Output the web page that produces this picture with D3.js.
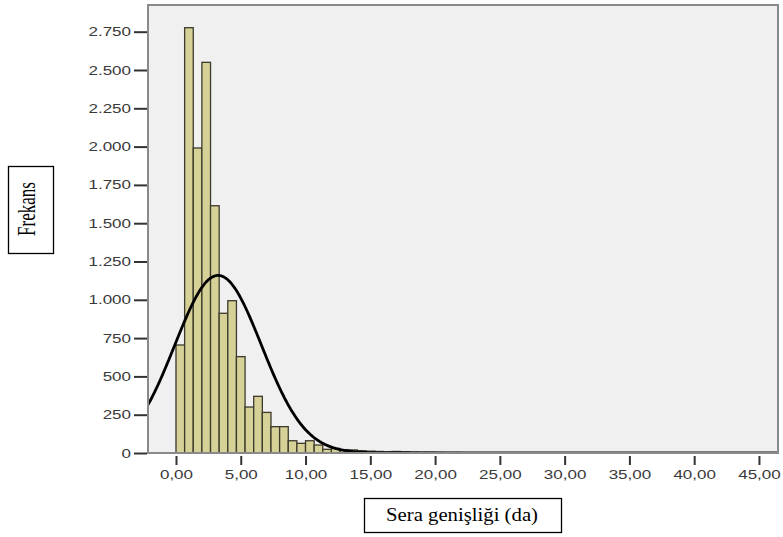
<!DOCTYPE html>
<html>
<head>
<meta charset="utf-8">
<script src="https://cdn.jsdelivr.net/npm/d3@7"></script>
<style>
  html, body { margin: 0; padding: 0; background: #ffffff; }
  svg { display: block; }
</style>
</head>
<body>
<svg id="chart" width="783" height="537"></svg>
<script>
// ---- data ----
const binWidth = 2 / 3;           // width of each histogram bin (da)
const binCounts = [705, 2776, 1991, 2550, 1614, 912, 994, 629, 300, 370,
                   265, 172, 172, 80, 63, 80, 52, 24, 30, 22,
                   20, 15, 12, 10, 8, 10, 8, 6, 5, 5,
                   4, 3, 3, 2, 2, 2, 1, 1, 1, 1,
                   1, 0, 1, 0, 1, 0, 0, 1, 0, 0,
                   0, 1, 0, 0, 0, 0, 1, 0, 0, 0,
                   0, 0, 0, 0, 1, 0, 0, 1];
const normalMean = 3.25;
const normalSD = 3.35;
const totalN = 14600;
const yTicks = [0, 250, 500, 750, 1000, 1250, 1500, 1750, 2000, 2250, 2500, 2750];
const xTicks = [0, 5, 10, 15, 20, 25, 30, 35, 40, 45];
const xTitle = "Sera genişliği (da)";
const yTitle = "Frekans";

// ---- layout ----
const svg = d3.select("#chart");
const plot = { left: 148, right: 778, top: 5, bottom: 453 };

const x = d3.scaleLinear().domain([-2.16, 46.47]).range([plot.left, plot.right]);
const y = d3.scaleLinear().domain([0, 2750]).range([plot.bottom, 31.7]);

const loc = d3.formatLocale({ decimal: ",", thousands: ".", grouping: [3], currency: ["", ""] });
const fmtY = loc.format(",d");
const fmtX = loc.format(",.2f");

// plot background
svg.append("rect")
  .attr("x", plot.left).attr("y", plot.top)
  .attr("width", plot.right - plot.left).attr("height", plot.bottom - plot.top)
  .attr("fill", "#f0f0f0");

svg.append("defs").append("clipPath").attr("id", "clip")
  .append("rect")
  .attr("x", plot.left).attr("y", plot.top)
  .attr("width", plot.right - plot.left).attr("height", plot.bottom - plot.top);

// bars
const bins = binCounts.map((c, i) => ({ x0: i * binWidth, x1: (i + 1) * binWidth, count: c }))
  .filter(d => d.count > 0);
svg.append("g").attr("clip-path", "url(#clip)")
  .selectAll("rect").data(bins).enter().append("rect")
  .attr("x", d => x(d.x0))
  .attr("y", d => y(d.count))
  .attr("width", d => x(d.x1) - x(d.x0))
  .attr("height", d => y(0) - y(d.count))
  .attr("fill", "#d6d197")
  .attr("stroke", "#3b3a2c")
  .attr("stroke-width", 1.3);

// normal curve
const curvePts = d3.range(-2.2, 46.6, 0.05).map(v => {
  const z = (v - normalMean) / normalSD;
  return [v, totalN * binWidth / (normalSD * Math.sqrt(2 * Math.PI)) * Math.exp(-0.5 * z * z)];
});
svg.append("path").attr("clip-path", "url(#clip)")
  .datum(curvePts)
  .attr("fill", "none")
  .attr("stroke", "#000")
  .attr("stroke-width", 2.8)
  .attr("d", d3.line().x(d => x(d[0])).y(d => y(d[1])).curve(d3.curveBasis));

// frame
svg.append("rect")
  .attr("x", plot.left).attr("y", plot.top)
  .attr("width", plot.right - plot.left).attr("height", plot.bottom - plot.top)
  .attr("fill", "none").attr("stroke", "#8a8a8a").attr("stroke-width", 2);

// axes
const yAxis = svg.append("g").attr("transform", `translate(${plot.left - 1},0)`)
  .call(d3.axisLeft(y).tickValues(yTicks).tickFormat(fmtY).tickSize(13).tickPadding(3));
const xAxis = svg.append("g").attr("transform", `translate(0,${plot.bottom + 3})`)
  .call(d3.axisBottom(x).tickValues(xTicks).tickFormat(fmtX).tickSize(9).tickPadding(5));

[yAxis, xAxis].forEach(g => {
  g.select(".domain").remove();
  g.selectAll(".tick line").attr("stroke", "#333").attr("stroke-width", 2);
  g.selectAll(".tick text")
    .attr("fill", "#3a3a3a")
    .style("font-family", "'Liberation Sans', Arial, sans-serif")
    .style("font-size", "12.5px");
});
// stretched look of the original labels
svg.selectAll(".tick text").each(function () {
  const w = this.getComputedTextLength();
  d3.select(this).attr("textLength", w * 1.36).attr("lengthAdjust", "spacingAndGlyphs");
});

// y title box
svg.append("rect").attr("x", 8.5).attr("y", 166.5).attr("width", 45).attr("height", 87)
  .attr("fill", "#fff").attr("stroke", "#000").attr("stroke-width", 1.3);
svg.append("text")
  .attr("transform", "translate(35,209) scale(1.5,1) rotate(-90)")
  .attr("text-anchor", "middle")
  .style("font-family", "'Liberation Serif', 'Times New Roman', serif")
  .style("font-size", "17px")
  .attr("fill", "#000")
  .text(yTitle);

// x title box
svg.append("rect").attr("x", 364.5).attr("y", 498.5).attr("width", 197).attr("height", 34)
  .attr("fill", "#fff").attr("stroke", "#000").attr("stroke-width", 1.3);
svg.append("text")
  .attr("x", 462).attr("y", 521)
  .attr("text-anchor", "middle")
  .style("font-family", "'Liberation Serif', 'Times New Roman', serif")
  .style("font-size", "18px")
  .attr("fill", "#000")
  .attr("textLength", 152).attr("lengthAdjust", "spacingAndGlyphs")
  .text(xTitle);
</script>
</body>
</html>
